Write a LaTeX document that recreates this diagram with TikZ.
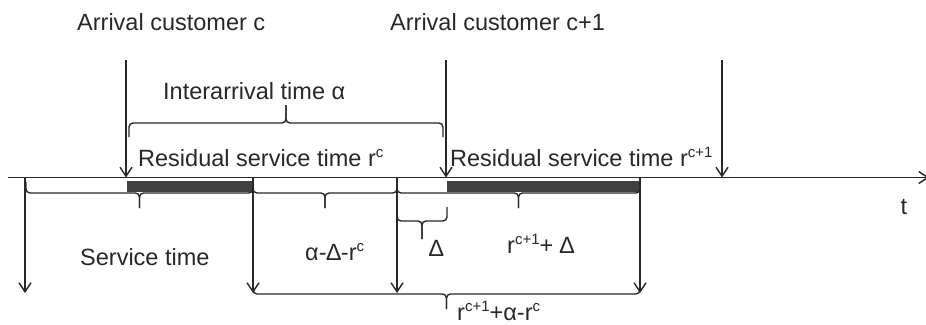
\documentclass[tikz,border=0pt]{standalone}
\usepackage{fontspec}
\setmainfont{Liberation Sans}
\usetikzlibrary{arrows.meta}

% superscript at a fixed size, raised above the baseline
\newcommand\supx[1]{\raisebox{8.5pt}{\fontsize{15}{15}\selectfont #1}}

% horizontal curly brace: x1, x2, y of ends, y of bar, y of tip
\newcommand\curlybrace[5]{%
  \draw[line, rounded corners=4pt] (#1,#3) -- (#1,#4) -- ({(#1+#2)/2},#4) -- ({(#1+#2)/2},#5);
  \draw[line, rounded corners=4pt] ({(#1+#2)/2},#5) -- ({(#1+#2)/2},#4) -- (#2,#4) -- (#2,#3);}

\definecolor{ink}{RGB}{40,40,40}
\definecolor{barfill}{RGB}{64,64,64}

\tikzset{
  line/.style={line width=1.4pt, draw=ink},
  arr/.style={line, -{Straight Barb[length=9pt,width=12pt]}},
  lbl/.style={anchor=base west, inner sep=0pt, text=ink, font=\fontsize{23.5}{28}\selectfont},
}

\begin{document}
\begin{tikzpicture}[x=1pt, y=-1pt]
\useasboundingbox (0,0) rectangle (926,324);

% time axis
\coordinate (axL) at (8,177.5);
\coordinate (axR) at (929,177.5);
\draw[arr] (axL) -- (axR);
\node[lbl, anchor=base] (t) at (904,214) {t};

% arrival instants
\coordinate (a1top) at (126,60);  \coordinate (a1) at (126,177.5);
\coordinate (a2top) at (446,60);  \coordinate (a2) at (446,177.5);
\coordinate (a3top) at (722,60);  \coordinate (a3) at (722,177.5);
\draw[arr] (a1top) -- (a1);
\draw[arr] (a2top) -- (a2);
\draw[arr] (a3top) -- (a3);

\node[lbl] (arrc)  at (77,30)  {Arrival customer c};
\node[lbl] (arrc1) at (390,30) {Arrival customer c+1};

% interarrival brace
\curlybrace{129}{443}{137}{123}{105}
\node[lbl] (inter) at (163,99) {Interarrival time α};

\node[lbl] (resc)  at (138,166) {Residual service time r\supx{c}};
\node[lbl] (resc1) at (450,166) {Residual service time r\supx{c+1}};

% residual service periods
\fill[barfill] (127,181) rectangle (253,192);
\fill[barfill] (447,181) rectangle (640,192);

% departure instants
\coordinate (d0) at (25,177.5);  \coordinate (d0b) at (25,293);
\coordinate (d1) at (253,177.5); \coordinate (d1b) at (253,293);
\coordinate (d2) at (397,177.5); \coordinate (d2b) at (397,293);
\coordinate (d3) at (640,177.5); \coordinate (d3b) at (640,293);
\draw[arr] (d0) -- (d0b);
\draw[arr] (d1) -- (d1b);
\draw[arr] (d2) -- (d2b);
\draw[arr] (d3) -- (d3b);

% braces under the axis
\curlybrace{26}{253}{182}{193}{208}
\curlybrace{253}{397}{182}{193}{208}
\curlybrace{397}{640}{182}{193}{208}
\curlybrace{397}{447}{207}{221}{239}
\curlybrace{253}{640}{286}{294}{309}

\node[lbl] (serv)  at (80,265)  {Service time};
\node[lbl] (gap)   at (305,260) {α-∆-r\supx{c}};
\node[lbl] (delta) at (429,256) {∆};
\node[lbl] (rdel)  at (507,253) {r\supx{c+1}+ ∆};
\node[lbl] (tot)   at (457,320) {r\supx{c+1}+α-r\supx{c}};
\end{tikzpicture}
\end{document}
